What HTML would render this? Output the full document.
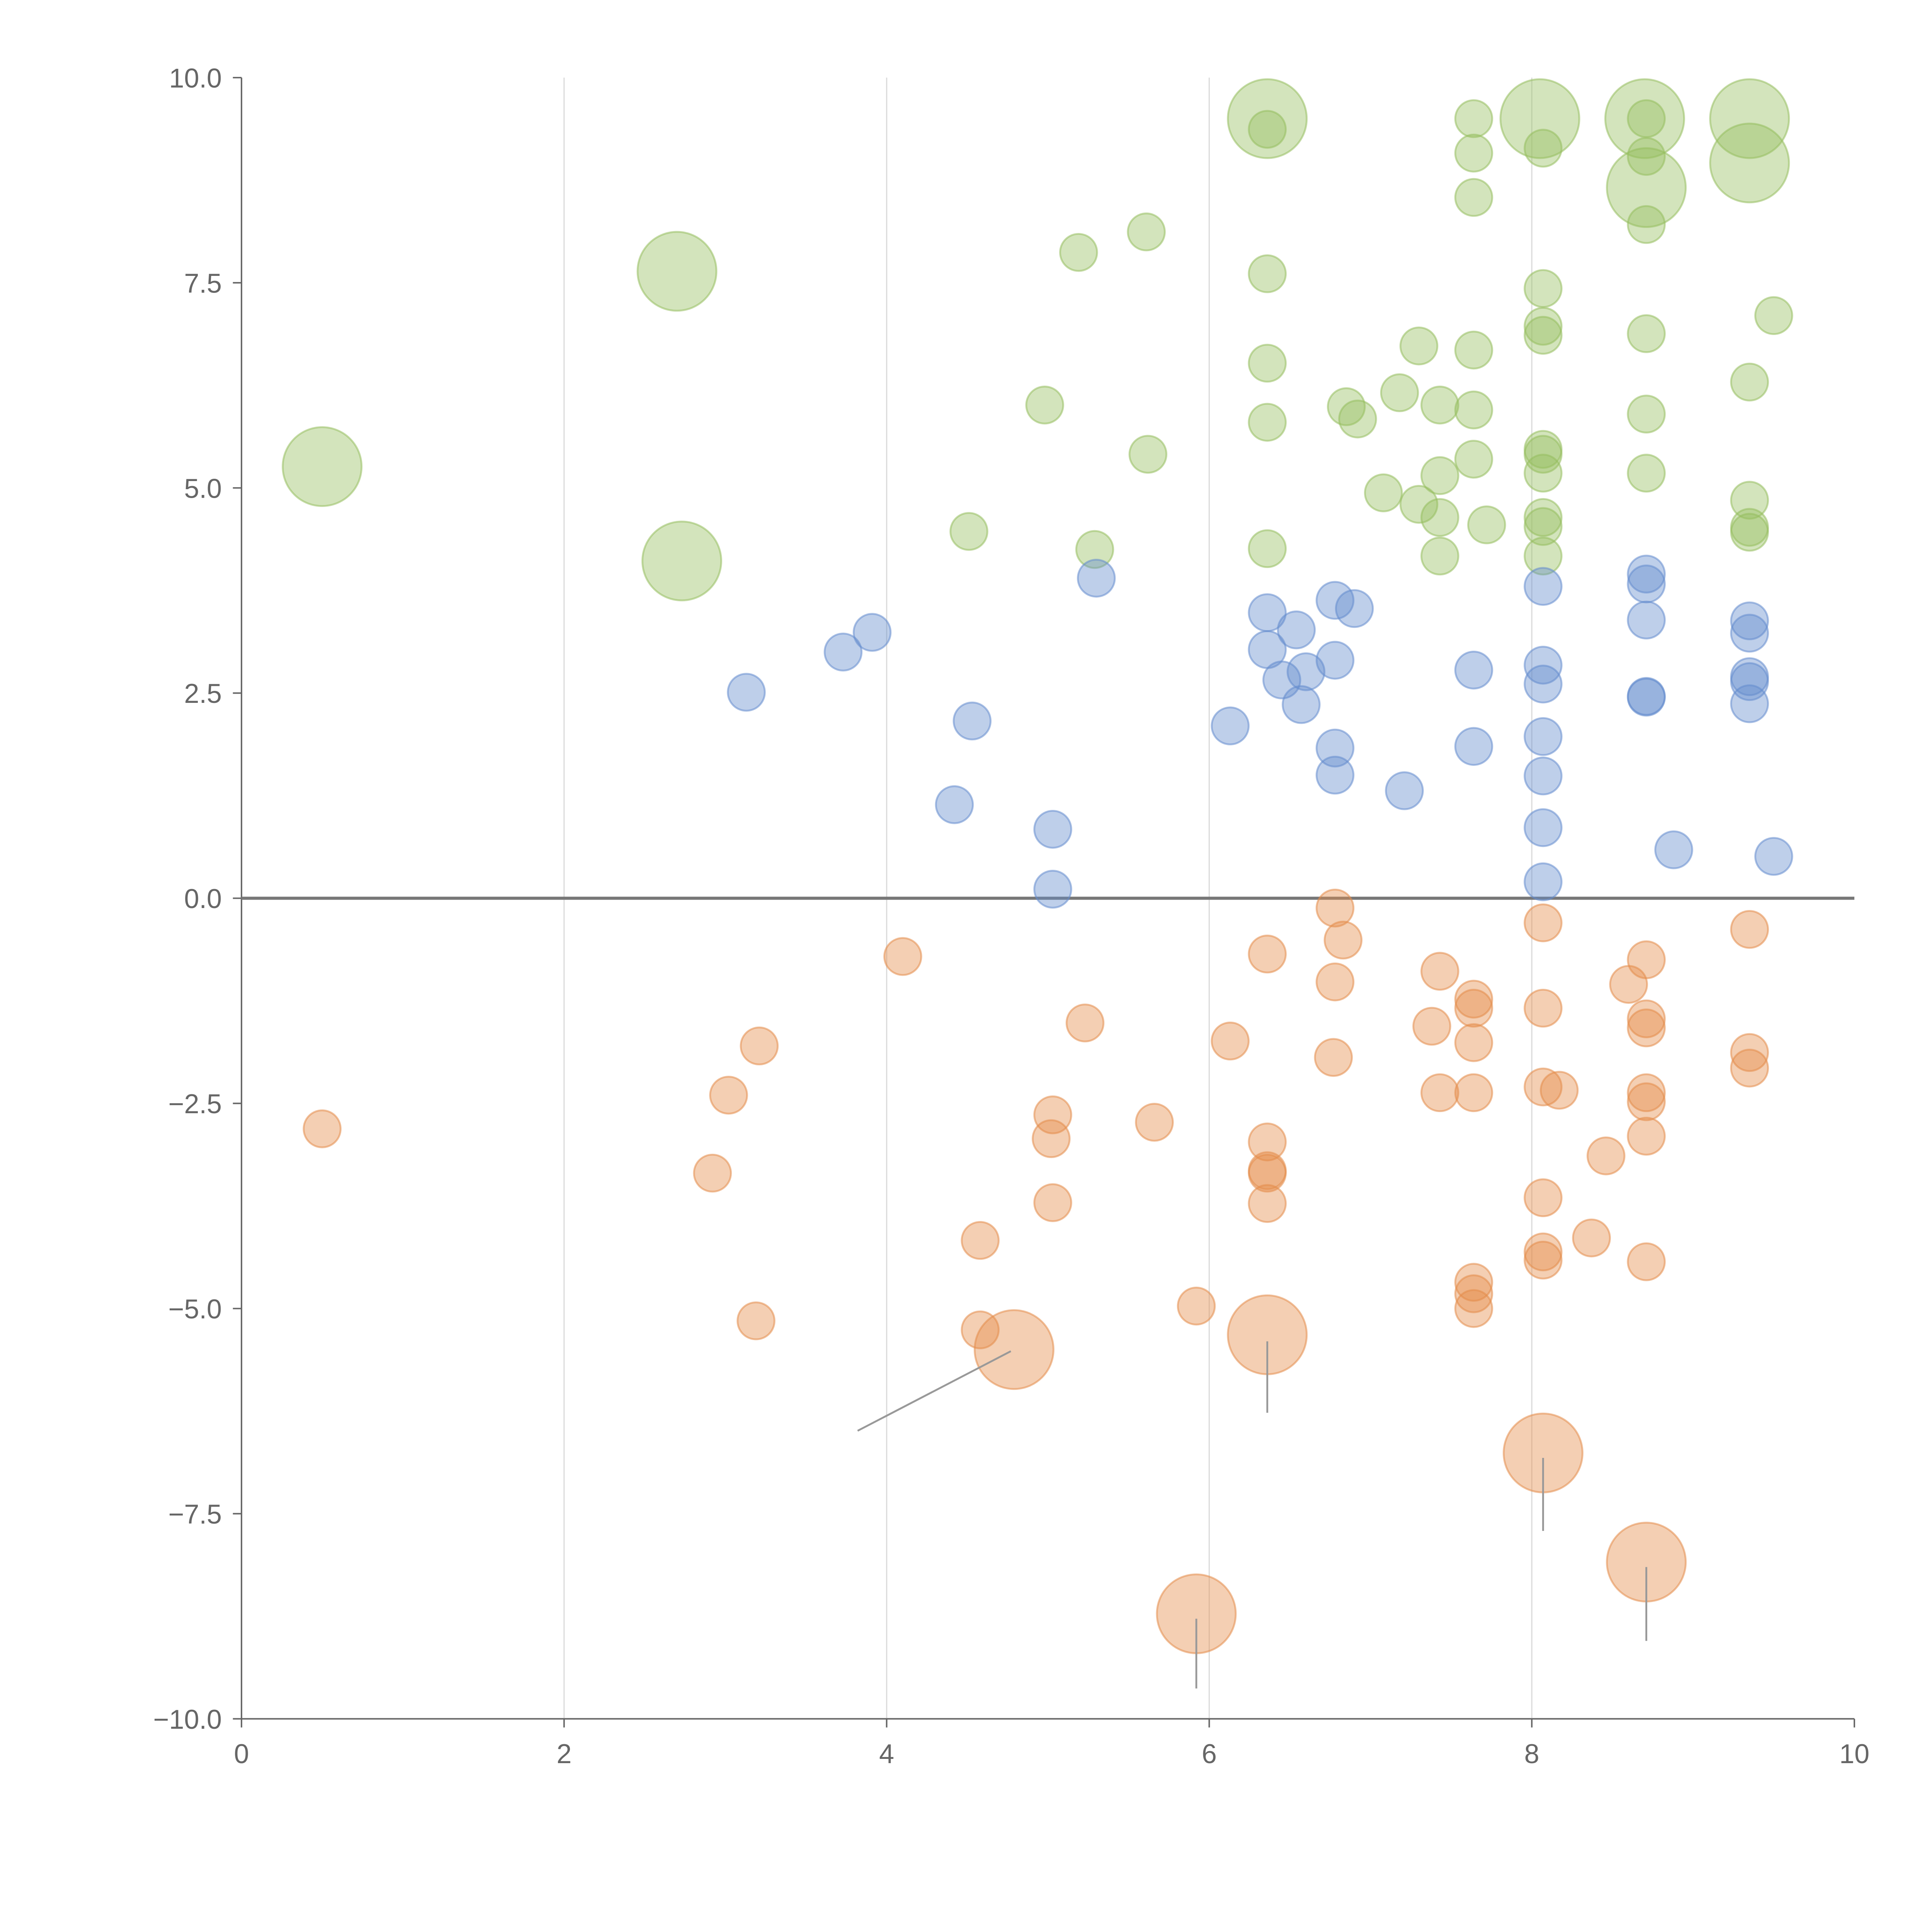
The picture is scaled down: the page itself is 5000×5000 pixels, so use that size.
<!DOCTYPE html>
<html><head><meta charset="utf-8"><style>
html,body{margin:0;padding:0;background:#fff;}
svg{display:block;}
text{font-family:"Liberation Sans",Arial,sans-serif;fill:#666;}
</style></head><body>
<svg id="chart" width="5000" height="5000" viewBox="0 0 1568 1568" xmlns="http://www.w3.org/2000/svg">
<g id="grid"></g>
<g id="axes"></g>
<g id="marks"></g>
<g id="leaders"></g>
</svg>
<script>
const xTicks=[0,2,4,6,8,10];
const yTicks=[-10,-7.5,-5,-2.5,0,2.5,5,7.5,10];
const yTickLabels=["\u221210.0","\u22127.5","\u22125.0","\u22122.5","0.0","2.5","5.0","7.5","10.0"];
const greenX=[0.50,2.70,2.73,5.19,5.61,4.98,5.62,4.51,5.29,6.36,6.36,6.36,6.36,6.36,6.36,6.85,6.92,7.18,7.30,7.43,7.08,7.30,7.43,7.43,7.43,7.72,7.64,7.64,7.64,7.64,7.64,7.64,8.05,8.07,8.07,8.07,8.07,8.07,8.07,8.07,8.07,8.07,8.07,8.70,8.71,8.71,8.71,8.71,8.71,8.71,8.71,9.35,9.35,9.50,9.35,9.35,9.35,9.35];
const greenY=[5.26,7.64,4.11,7.87,8.12,6.01,5.41,4.47,4.25,9.50,9.37,7.61,6.52,5.80,4.26,5.99,5.84,6.16,6.73,6.01,4.94,4.80,5.15,4.64,4.17,4.55,9.50,9.08,8.54,6.68,5.95,5.35,9.50,9.14,7.43,6.97,6.86,5.47,5.41,5.18,4.64,4.53,4.17,9.50,9.50,9.04,8.66,8.21,6.88,5.90,5.18,9.50,8.96,7.10,6.29,4.85,4.52,4.46];
const greenS=[2,2,2,1,1,1,1,1,1,2,1,1,1,1,1,1,1,1,1,1,1,1,1,1,1,1,1,1,1,1,1,1,2,1,1,1,1,1,1,1,1,1,1,2,1,1,2,1,1,1,1,2,2,1,1,1,1,1];
const blueX=[3.13,3.73,3.91,4.42,4.53,5.03,5.03,5.30,6.13,6.36,6.36,6.45,6.54,6.57,6.60,6.78,6.78,6.78,6.78,6.90,7.21,7.64,7.64,8.07,8.07,8.07,8.07,8.07,8.07,8.07,8.71,8.71,8.71,8.71,8.71,8.88,9.35,9.35,9.35,9.35,9.35,9.50];
const blueY=[2.51,3.00,3.24,1.14,2.16,0.84,0.11,3.90,2.10,3.48,3.03,2.66,3.27,2.36,2.76,3.63,2.90,1.83,1.50,3.53,1.31,2.78,1.85,3.80,2.84,2.61,1.97,1.49,0.86,0.20,3.95,3.83,3.39,2.46,2.45,0.59,3.38,3.23,2.70,2.64,2.37,0.51];
const orangeX=[0.50,3.02,2.92,3.21,3.19,4.10,4.58,4.58,4.79,5.03,5.02,5.03,5.23,5.66,5.92,5.92,6.13,6.36,6.36,6.36,6.36,6.36,6.36,6.78,6.83,6.78,6.77,7.38,7.43,7.43,7.64,7.64,7.64,7.64,7.64,7.64,7.64,8.07,8.07,8.07,8.17,8.07,8.07,8.07,8.07,8.37,8.46,8.60,8.71,8.71,8.71,8.71,8.71,8.71,8.71,8.71,9.35,9.35,9.35];
const orangeY=[-2.81,-2.40,-3.35,-1.80,-5.15,-0.71,-4.17,-5.26,-5.50,-2.64,-2.93,-3.71,-1.52,-2.73,-4.97,-8.72,-1.74,-0.68,-2.97,-3.32,-3.35,-3.72,-5.32,-0.12,-0.51,-1.02,-1.94,-1.56,-0.89,-2.37,-1.23,-1.34,-1.76,-2.37,-4.68,-4.82,-5.00,-0.30,-1.34,-2.30,-2.34,-3.65,-4.31,-4.41,-6.76,-4.14,-3.14,-1.05,-0.75,-1.47,-1.58,-2.37,-2.48,-2.90,-4.43,-8.09,-0.38,-1.88,-2.07];
const orangeS=[1,1,1,1,1,1,1,1,2,1,1,1,1,1,1,2,1,1,1,1,1,1,2,1,1,1,1,1,1,1,1,1,1,1,1,1,1,1,1,1,1,1,1,1,2,1,1,1,1,1,1,1,1,1,1,2,1,1,1];
// leader lines: [fromX, fromY, toX, toY] in data units
const leaderFromX=[4.77,6.36,8.07,8.71,5.92];
const leaderFromY=[-5.52,-5.40,-6.82,-8.15,-8.78];
const leaderToX=[3.82,6.36,8.07,8.71,5.92];
const leaderToY=[-6.49,-6.27,-7.71,-9.05,-9.63];

const NS="http://www.w3.org/2000/svg";
const X0=196,X1=1505,Y0=1395,Y1=63;
const sx=v=>X0+(v-0)/(10-0)*(X1-X0);
const sy=v=>Y0-(v+10)/20*(Y0-Y1);
const rad=s=>s===2?32:15;
function mk(tag,attrs,parent){const e=document.createElementNS(NS,tag);for(const k in attrs)e.setAttribute(k,attrs[k]);parent.appendChild(e);return e;}
const grid=document.getElementById('grid'),axes=document.getElementById('axes'),marks=document.getElementById('marks'),leaders=document.getElementById('leaders');

xTicks.forEach(t=>{
  if(t>0&&t<10){const l=mk('line',{x1:sx(t),x2:sx(t),y1:Y1,y2:Y0,stroke:'#dcdcdc','stroke-width':1},grid);
  
  }
  const tk=mk('line',{x1:sx(t),x2:sx(t),y1:Y0,y2:Y0+7,stroke:'#666','stroke-width':1.2},axes);
  
  
  const tx=mk('text',{x:sx(t),y:Y0+36,'text-anchor':'middle','font-size':22},axes);
  tx.textContent=String(t);
  
  
});
yTicks.forEach((t,i)=>{
  const tk=mk('line',{x1:X0-7,x2:X0,y1:sy(t),y2:sy(t),stroke:'#666','stroke-width':1.2},axes);
  
  
  const tx=mk('text',{x:X0-16,y:sy(t)+8,'text-anchor':'end','font-size':22},axes);
  tx.textContent=yTickLabels[i];
  
  
});
const ya=mk('line',{x1:X0,x2:X0,y1:Y1,y2:Y0,stroke:'#666','stroke-width':1.2},axes);


const xa=mk('line',{x1:X0,x2:X1,y1:Y0,y2:Y0,stroke:'#666','stroke-width':1.2},axes);



function series(xs,ys,ss,col,name){
  xs.forEach((x,i)=>{
    const c=mk('circle',{cx:sx(x),cy:sy(ys[i]),r:rad(ss?ss[i]:1),fill:col,'fill-opacity':0.42,stroke:col,'stroke-opacity':0.55,'stroke-width':1.5},marks);
    
    
  });
}
series(greenX,greenY,greenS,'rgb(150,190,95)','bubble-green');
series(blueX,blueY,null,'rgb(100,140,205)','bubble-blue');
series(orangeX,orangeY,orangeS,'rgb(228,140,75)','bubble-orange');

const zl=mk('line',{x1:X0,x2:X1,y1:sy(0),y2:sy(0),stroke:'#777','stroke-width':2.5},axes);



leaderFromX.forEach((x,i)=>{
  const l=mk('line',{x1:sx(x),y1:sy(leaderFromY[i]),x2:sx(leaderToX[i]),y2:sy(leaderToY[i]),stroke:'#999','stroke-width':1.5},leaders);
  
  
});
</script>
</body></html>
